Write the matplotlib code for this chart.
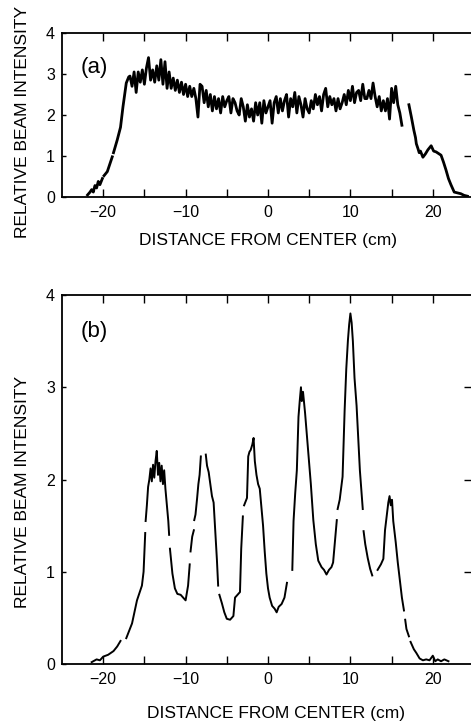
import numpy as np
import matplotlib
matplotlib.use("Agg")
import matplotlib.pyplot as plt
from matplotlib.ticker import FixedLocator

nan = np.nan
plt.rcParams['font.family'] = ['Liberation Sans', 'DejaVu Sans']

# ---------------- data: panel (a) ----------------
xa_rise = [-21.9, -21.6, -21.4, -21.2, -21.0, -20.8, -20.6, -20.4, -20.1, nan,
           -19.9, -19.5, -19.2, -18.9, nan,
           -18.75, -18.3, -17.9, -17.6, -17.2, -16.9, -16.75, -16.5, -16.25]
ya_rise = [0.05, 0.12, 0.18, 0.12, 0.28, 0.22, 0.38, 0.30, 0.45, nan,
           0.52, 0.62, 0.80, 0.98, nan,
           1.08, 1.39, 1.70, 2.20, 2.78, 2.93, 2.95, 2.70, 3.05]

# noisy plateau sampled every 0.25 cm from -16.0 to 16.25
xa_plateau_start, xa_plateau_stop = -16.0, 16.25
ya_plateau = [
    2.55, 3.05, 2.80, 3.10,   # -16
    2.75, 3.15, 3.40, 2.85,   # -15
    3.10, 2.80, 3.20, 2.85,   # -14
    3.35, 2.75, 3.30, 2.65,   # -13
    3.05, 2.65, 2.90, 2.60,   # -12
    2.85, 2.55, 2.80, 2.50,   # -11
    2.75, 2.45, 2.70, 2.45,   # -10
    2.65, 2.40, 1.95, 2.75,   # -9
    2.70, 2.30, 2.60, 2.20,   # -8
    2.50, 2.10, 2.45, 2.15,   # -7
    2.40, 2.05, 2.45, 2.20,   # -6
    2.35, 2.45, 2.05, 2.40,   # -5
    2.30, 2.10, 2.00, 2.40,   # -4
    2.20, 1.85, 2.25, 1.95,   # -3
    2.15, 1.85, 2.30, 2.00,   # -2
    2.30, 1.80, 2.35, 2.05,   # -1
    2.20, 2.35, 1.80, 2.30,   # 0
    2.45, 2.05, 2.40, 2.10,   # 1
    2.35, 2.50, 1.95, 2.40,   # 2
    2.20, 2.55, 2.05, 2.45,   # 3
    2.25, 1.95, 2.40, 2.15,   # 4
    2.05, 2.35, 2.15, 2.50,   # 5
    2.25, 2.45, 2.10, 2.50,   # 6
    2.65, 2.20, 2.45, 2.25,   # 7
    2.40, 2.10, 2.40, 2.15,   # 8
    2.30, 2.50, 2.25, 2.60,   # 9
    2.35, 2.70, 2.30, 2.55,   # 10
    2.60, 2.35, 2.75, 2.40,   # 11
    2.40, 2.60, 2.40, 2.78,   # 12
    2.45, 2.20, 2.45, 2.10,   # 13
    2.35, 2.10, 2.40, 1.90,   # 14
    2.65, 2.30, 2.70, 2.25,   # 15
    2.05, 1.75,               # 16
]

xa_fall = [17.1, 17.4, 17.7, 17.9, 18.0, 18.2, 18.35, 18.5, 18.8, 19.1, 19.4, 19.8,
           20.1, 20.4, 20.7, 21.0, 21.3, 21.6, 21.9, 22.2, 22.6, 23.0, 23.4, 23.8, 24.2]
ya_fall = [2.25, 1.95, 1.63, 1.45, 1.30, 1.18, 1.08, 1.12, 0.97, 1.05, 1.15, 1.25,
           1.12, 1.10, 1.06, 1.02, 0.85, 0.66, 0.45, 0.30, 0.12, 0.10, 0.08, 0.04, 0.02]

# ---------------- data: panel (b) ----------------
xb = [-21.4, -20.8, -20.4, -20.0, -19.4, -18.75, -18.3, -17.9, nan,
      -17.2, -16.5, -15.9, -15.3, -15.1, -14.9, nan,
      -14.85, -14.7, -14.55, -14.4, -14.25, -14.1, -13.95, -13.8, -13.65,
      -13.5, -13.35, -13.2, -13.05, -12.9, -12.75, -12.6, -12.45,
      -12.3, -12.1, -12.0, nan,
      -11.9, -11.6, -11.3, -11.0, -10.6, -10.3, -10.0, -9.7, -9.5, nan,
      -9.4, -9.2, -9.0, nan,
      -8.95, -8.8, -8.6, -8.45, -8.3, -8.15, nan,
      -7.55, -7.4, -7.2, -7.0, -6.8, -6.6, -6.4, -6.2, -6.05, nan,
      -5.9, -5.6, -5.3, -5.0, -4.6, -4.2, -4.0, -3.7, -3.4, -3.25, -3.05, nan,
      -2.9, -2.55, -2.4, -2.25, -2.1, -1.9, -1.75, -1.6, -1.4, -1.2, -1.0,
      -0.8, -0.6, -0.4, -0.2, 0.0, 0.2, 0.5, 0.8, 1.05, 1.3, 1.65, 2.0, 2.3, nan,
      2.95, 3.1, 3.3, 3.5, 3.7, 3.85, 4.0, 4.1, 4.25, 4.5, 4.75, 4.9,
      5.2, 5.5, 5.8, 6.1, 6.5, 6.8, 7.1, 7.4, 7.7, 7.9, 8.1, 8.35, nan,
      8.45, 8.7, 9.05, 9.3, 9.5, 9.7, 9.85, 10.0, 10.15, 10.3, 10.5, 10.75, 10.95, 11.15, 11.5, nan,
      11.6, 11.8, 12.1, 12.4, 12.65, nan,
      13.3, 13.7, 14.0, 14.2, 14.4, 14.6, 14.75, 14.9, 15.05, 15.2, 15.5, 15.75, 16.0, 16.25, 16.5, nan,
      16.65, 16.8, 17.1, nan,
      17.3, 17.7, 18.0, 18.4, 18.8, 19.2, 19.6, 20.0, 20.3, 20.6, 21.0, 21.4, 21.9]
yb = [0.02, 0.05, 0.04, 0.08, 0.10, 0.14, 0.19, 0.25, nan,
      0.28, 0.44, 0.69, 0.85, 1.00, 1.42, nan,
      1.55, 1.72, 1.92, 2.00, 2.12, 1.98, 2.16, 2.02, 2.20,
      2.31, 2.05, 2.18, 1.98, 2.15, 1.95, 2.10, 1.90,
      1.75, 1.55, 1.40, nan,
      1.25, 0.98, 0.82, 0.76, 0.75, 0.72, 0.69, 0.85, 1.08, nan,
      1.22, 1.38, 1.45, nan,
      1.56, 1.62, 1.80, 1.95, 2.05, 2.25, nan,
      2.27, 2.15, 2.08, 1.95, 1.82, 1.75, 1.45, 1.13, 0.85, nan,
      0.75, 0.66, 0.56, 0.49, 0.48, 0.52, 0.72, 0.75, 0.78, 1.25, 1.60, nan,
      1.72, 1.80, 2.25, 2.30, 2.32, 2.38, 2.45, 2.20, 2.05, 1.95, 1.90,
      1.70, 1.50, 1.22, 0.98, 0.82, 0.72, 0.63, 0.60, 0.56, 0.62, 0.65, 0.72, 0.88, nan,
      1.02, 1.55, 1.85, 2.10, 2.68, 2.85, 3.00, 2.85, 2.95, 2.72, 2.45, 2.30,
      1.95, 1.56, 1.30, 1.12, 1.05, 1.02, 0.97, 1.02, 1.05, 1.10, 1.30, 1.56, nan,
      1.68, 1.78, 2.03, 2.75, 3.20, 3.51, 3.68, 3.80, 3.70, 3.50, 3.10, 2.80, 2.45, 2.10, 1.68, nan,
      1.44, 1.30, 1.15, 1.03, 0.96, nan,
      1.02, 1.08, 1.14, 1.45, 1.60, 1.75, 1.82, 1.72, 1.78, 1.55, 1.32, 1.10, 0.91, 0.72, 0.58, nan,
      0.48, 0.38, 0.30, nan,
      0.24, 0.16, 0.12, 0.06, 0.04, 0.05, 0.04, 0.09, 0.03, 0.05, 0.03, 0.05, 0.03]

x_major = [-20, -10, 0, 10, 20]
x_minor = [-15, -5, 5, 15]
x_labels = ['−20', '−10', '0', '10', '20']
y_ticks = [0, 1, 2, 3, 4]
y_labels = ['0', '1', '2', '3', '4']
x_title = 'DISTANCE FROM CENTER (cm)'
y_title = 'RELATIVE BEAM INTENSITY'
panel_labels = ['(a)', '(b)']

# ---------------- figure ----------------
W, H = 471, 722
fig = plt.figure(figsize=(W / 100, H / 100), dpi=100)
left = 62 / W
width = 412 / W
ax1 = fig.add_axes([left, 1 - 197 / H, width, 164 / H])
ax2 = fig.add_axes([left, 1 - 664 / H, width, 369 / H])

xa_plateau = np.linspace(xa_plateau_start, xa_plateau_stop, len(ya_plateau))
xa = np.concatenate([xa_rise, xa_plateau, [nan], xa_fall])
ya = np.concatenate([ya_rise, ya_plateau, [nan], ya_fall])

ax1.plot(xa, ya, color='black', lw=2.0)
ax2.plot(xb, yb, color='black', lw=1.4)

FS_TICK = 11.5
FS_LAB = 12.5
settings = [
    # ax, panel label, label y, xlabel coords, ylabel coords
    (ax1, panel_labels[0], 3.17, (0.50, -0.268), (-0.095, 0.457)),
    (ax2, panel_labels[1], 3.60, (0.519, -0.133), (-0.095, 0.466)),
]
for ax, lab, ly, xlc, ylc in settings:
    ax.set_xlim(-25, 25)
    ax.set_ylim(0, 4)
    ax.set_xticks(x_major)
    ax.set_xticklabels(x_labels, fontsize=FS_TICK)
    ax.xaxis.set_minor_locator(FixedLocator(x_minor))
    ax.set_yticks(y_ticks)
    ax.set_yticklabels(y_labels, fontsize=FS_TICK)
    ax.tick_params(axis='x', which='both', direction='in', top=True, bottom=True,
                   length=6, width=1.0, pad=6)
    ax.tick_params(axis='y', which='both', direction='in', left=True, right=False,
                   length=3, width=1.0, pad=5)
    for s in ax.spines.values():
        s.set_linewidth(1.3)
    ax.set_xlabel(x_title, fontsize=FS_LAB)
    ax.xaxis.set_label_coords(*xlc)
    ax.xaxis.label.set_va('center')
    ax.set_ylabel(y_title, fontsize=FS_LAB)
    ax.yaxis.set_label_coords(*ylc)
    ax.yaxis.label.set_va('center')
    ax.text(-22.8, ly, lab, fontsize=16, ha='left', va='center')
    axr = ax.twinx()
    axr.set_ylim(0, 4)
    axr.set_yticks([1, 2, 3])
    axr.tick_params(axis='y', direction='in', length=7, width=1.0, labelright=False)
    for s in axr.spines.values():
        s.set_visible(False)

fig.savefig('out.png', dpi=100)
